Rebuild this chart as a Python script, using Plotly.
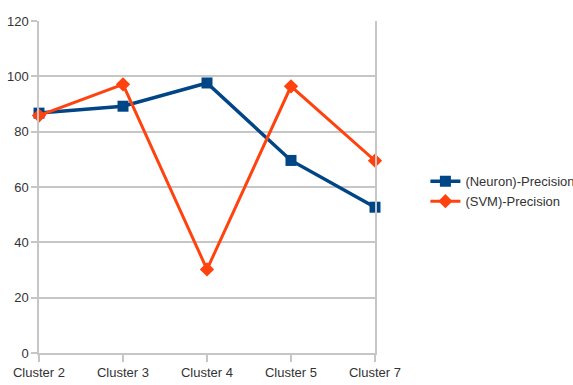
import plotly.graph_objects as go

clusters = ["Cluster 2", "Cluster 3", "Cluster 4", "Cluster 5", "Cluster 7"]
neuron_precision = [86.7, 89.2, 97.6, 69.6, 52.7]
svm_precision = [85.8, 97.1, 30.2, 96.4, 69.5]
y_ticks = [0, 20, 40, 60, 80, 100, 120]

grid = "#c6c6c6"
font = dict(family="Liberation Sans, Arial, sans-serif", size=13, color="#333333")

fig = go.Figure()
fig.add_trace(go.Scatter(
    x=clusters, y=neuron_precision, name="(Neuron)-Precision",
    mode="lines+markers", cliponaxis=False,
    line=dict(color="#004586", width=3.5),
    marker=dict(symbol="square", size=11, color="#004586"),
))
fig.add_trace(go.Scatter(
    x=clusters, y=svm_precision, name="(SVM)-Precision",
    mode="lines+markers", cliponaxis=False,
    line=dict(color="#ff420e", width=3),
    marker=dict(symbol="diamond", size=11, color="#ff420e"),
))

fig.update_layout(
    width=573, height=385,
    margin=dict(l=39, r=198, t=21, b=32, autoexpand=False),
    paper_bgcolor="white", plot_bgcolor="white",
    font=font,
    showlegend=True,
    legend=dict(x=1.15, y=0.487, xanchor="left", yanchor="middle",
                font=dict(size=13, color="#333333"),
                itemwidth=30, tracegroupgap=0, bgcolor="rgba(0,0,0,0)"),
)
fig.update_xaxes(
    type="category", range=[0, 4],
    showgrid=False, showline=True, linecolor=grid, linewidth=1.5,
    mirror=False, ticks="outside", ticklen=7, tickcolor=grid, tickwidth=1.5,
    tickfont=dict(size=13), zeroline=False,
)
fig.update_yaxes(
    range=[0, 120], tickvals=y_ticks,
    showgrid=True, gridcolor=grid, gridwidth=1.5,
    showline=True, linecolor=grid, linewidth=1.5, mirror=True,
    ticks="outside", ticklen=6, tickcolor=grid, tickwidth=1.5,
    tickfont=dict(size=13), zeroline=False,
)

fig.write_html("out.html")
